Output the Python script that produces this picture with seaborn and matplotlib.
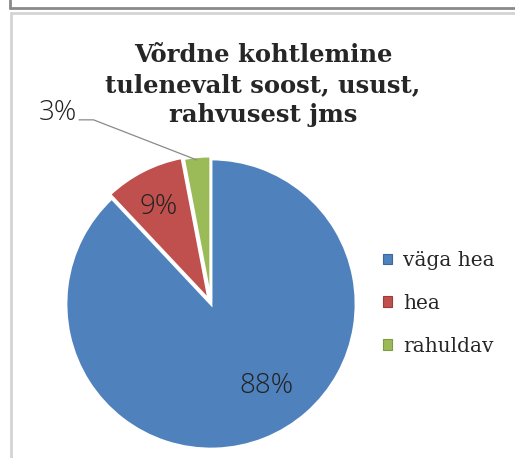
import matplotlib
matplotlib.use("Agg")
import matplotlib.pyplot as plt
import seaborn as sns
from matplotlib.patches import Patch
from matplotlib.lines import Line2D

sns.set_theme(style="white")
plt.rcParams['font.family'] = ['DejaVu Serif']

categories = ["väga hea", "hea", "rahuldav"]
values = [88, 9, 3]
pct_labels = ["88%", "9%", "3%"]
colors = ["#4F81BD", "#C0504D", "#9BBB59"]
edge_colors = ["#3A679E", "#9E3B38", "#7E9A45"]
title = "Võrdne kohtlemine\ntulenevalt soost, usust,\nrahvusest jms"

W, H = 515, 458
fig = plt.figure(figsize=(W / 100, H / 100), dpi=100)
fig.patch.set_facecolor("white")

# frame lines (screenshot borders)
fig.add_artist(Line2D([10 / W, 1], [1 - 8 / H, 1 - 8 / H], color="#8a8a8a", lw=2.0))
fig.add_artist(Line2D([10 / W, 10 / W], [1, 1 - 8 / H], color="#8a8a8a", lw=2.0))
fig.add_artist(Line2D([11 / W, 1], [1 - 12.5 / H, 1 - 12.5 / H], color="#d4d4d4", lw=2.0))
fig.add_artist(Line2D([11 / W, 11 / W], [1 - 12.5 / H, 0], color="#d4d4d4", lw=2.0))

cx, cy, r = 211, 304, 145
ax = fig.add_axes([(cx - r) / W, (H - cy - r) / H, 2 * r / W, 2 * r / H])
wedges, texts = ax.pie(values, colors=colors, startangle=90, counterclock=False,
                       explode=[0, 0.03, 0.02],
                       wedgeprops=dict(edgecolor="white", linewidth=2.0))
for w in wedges:
    w.set_clip_on(False)
ax.set_xlim(-1, 1)
ax.set_ylim(-1, 1)
ax.set_aspect("equal")
ax.axis("off")

lab_font = dict(fontsize=20, color="#222222", ha="center", va="center",
                family=["Open Sans", "DejaVu Sans"], fontweight=300, fontstyle="normal")
ax.text(0.38, -0.565, pct_labels[0], **lab_font)
ax.text(-0.36, 0.67, pct_labels[1], **lab_font)
ax.text(-1.055, 1.32, pct_labels[2], clip_on=False, **lab_font)
ax.plot([-0.91, -0.81, -0.097], [1.27, 1.27, 0.993], color="#8a8a8a", lw=0.9, clip_on=False)

fig.text(263 / W, 1 - 85 / H, title, ha="center", va="center", fontsize=17.5,
         fontweight="bold", color="#262626", linespacing=1.33)

handles = [Patch(facecolor=c, edgecolor=e, lw=0.8) for c, e in zip(colors, edge_colors)]
fig.legend(handles, categories, loc="upper left", bbox_to_anchor=(383 / W, 1 - 251 / H),
           frameon=False, fontsize=14.5, handlelength=0.43, handleheight=0.43,
           handletextpad=0.55, labelspacing=1.18, borderaxespad=0, borderpad=0)

fig.savefig("out.png", dpi=100, facecolor="white")
